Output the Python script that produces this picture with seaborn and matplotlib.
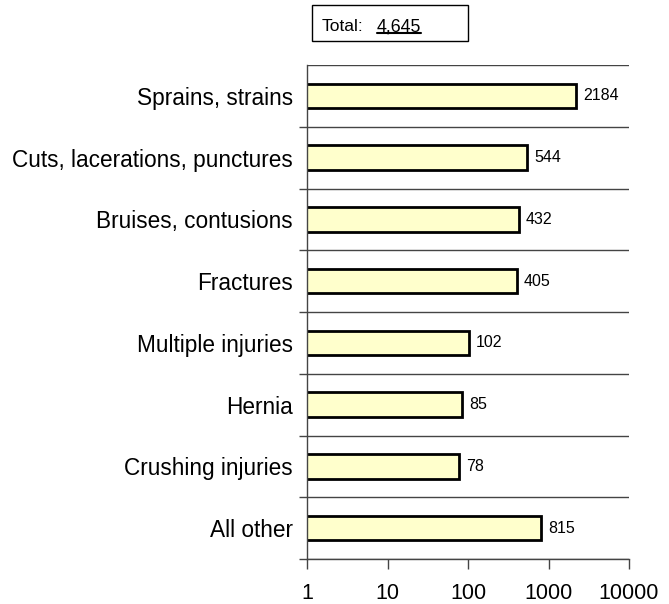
import numpy as np
import pandas as pd
import seaborn as sns
import matplotlib.pyplot as plt
from matplotlib.patches import Rectangle
from matplotlib.ticker import FixedLocator, NullFormatter

categories = ["Sprains, strains", "Cuts, lacerations, punctures", "Bruises, contusions",
              "Fractures", "Multiple injuries", "Hernia", "Crushing injuries", "All other"]
counts = [2184, 544, 432, 405, 102, 85, 78, 815]
total_text = "4,645"
xticks = [1, 10, 100, 1000, 10000]

df = pd.DataFrame({"category": categories, "count": counts})

sns.set_style("white")
plt.rcParams['font.family'] = ['Liberation Sans', 'DejaVu Sans']
plt.rcParams['text.color'] = 'black'
plt.rcParams['xtick.labelcolor'] = 'black'
plt.rcParams['ytick.labelcolor'] = 'black'

fig = plt.figure(figsize=(6.69, 6.04), dpi=100)
ax = fig.add_axes([307 / 669, 1 - 559 / 604, 322 / 669, 494 / 604])

sns.barplot(data=df, x="count", y="category", orient="h", color="#FFFFCC",
            edgecolor="black", linewidth=2, width=0.4, ax=ax, saturation=1)
ax.set_xscale("log")
ax.set_xlim(1, 10000)
ax.set_ylim(len(categories) - 0.5, -0.5)

ax.bar_label(ax.containers[0], labels=[str(c) for c in counts], padding=5,
             fontsize=11.5, color="black")

# x axis
ax.xaxis.set_major_locator(FixedLocator(xticks))
ax.xaxis.set_minor_locator(FixedLocator([]))
ax.set_xticklabels([str(t) for t in xticks], fontsize=15.5)
ax.tick_params(axis="x", which="major", direction="out", length=7, width=1,
               color="#444444", bottom=True, pad=10)

# y axis: category separators (no tick at the very top)
ax.yaxis.set_minor_locator(FixedLocator(np.arange(len(categories)) + 0.5))
ax.yaxis.set_minor_formatter(NullFormatter())
ax.tick_params(axis="y", which="major", length=0, labelsize=16.3, pad=10)
ax.tick_params(axis="y", which="minor", direction="out", length=6, width=1,
               color="#444444", left=True)
ax.grid(False)
ax.grid(True, axis="y", which="minor", color="#444444", linewidth=1)
ax.axhline(-0.5, color="#444444", linewidth=1, zorder=0.5)
ax.set_axisbelow(True)

for s in ["top", "right"]:
    ax.spines[s].set_visible(False)
for s in ["left", "bottom"]:
    ax.spines[s].set_color("#444444")
    ax.spines[s].set_linewidth(1)

ax.set_xlabel("")
ax.set_ylabel("")

# total box
fig.patches.append(Rectangle((312 / 669, 1 - 41 / 604), 156 / 669, 36 / 604,
                             transform=fig.transFigure, fill=False,
                             edgecolor="black", linewidth=1))
t1 = fig.text(322 / 669, 1 - 31 / 604, "Total:", fontsize=12.5, va="baseline")
t2 = fig.text(377 / 669, 1 - 31 / 604, total_text, fontsize=12.8, va="baseline")
fig.canvas.draw()
bb = t2.get_window_extent()
fig.add_artist(plt.Line2D([bb.x0, bb.x1], [bb.y0 + 2, bb.y0 + 2],
                          transform=None, color="black", linewidth=1.5))

fig.savefig("out.png", dpi=100)
